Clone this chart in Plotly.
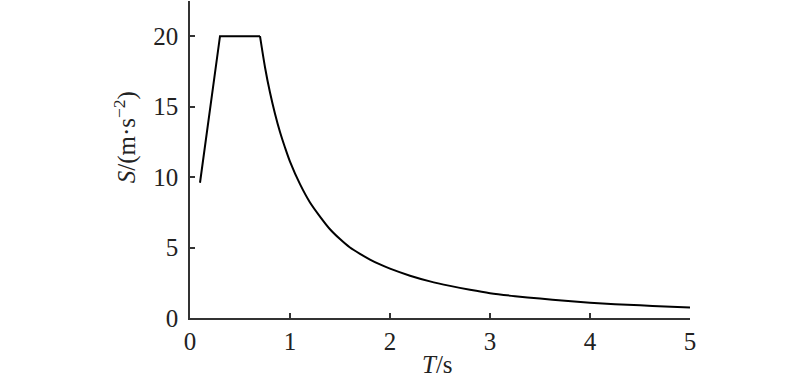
import plotly.graph_objects as go

# Response spectrum
T_rise = [0.1, 0.3, 0.7]
S_rise = [9.6, 20.0, 20.0]

T_decay = [0.7, 0.75, 0.8, 0.85, 0.9, 0.95, 1.0, 1.1, 1.2, 1.3, 1.4, 1.5, 1.6,
           1.7, 1.8, 1.9, 2.0, 2.2, 2.4, 2.6, 2.8, 3.0, 3.25, 3.5, 3.75, 4.0, 4.25,
           4.5, 4.75, 5.0]
S_decay = [20.0, 17.8, 16.0, 14.5, 13.2, 12.1, 11.1, 9.5, 8.2, 7.2, 6.3, 5.6, 5.0,
           4.55, 4.15, 3.8, 3.5, 3.0, 2.6, 2.28, 2.0, 1.76, 1.55, 1.38, 1.22, 1.08, 0.98,
           0.9, 0.82, 0.74]

x_ticks = [0, 1, 2, 3, 4, 5]
y_ticks = [0, 5, 10, 15, 20]

font = "Liberation Serif"

fig = go.Figure()
fig.add_trace(go.Scatter(x=T_rise, y=S_rise, mode="lines",
                         line=dict(color="black", width=2),
                         showlegend=False, hoverinfo="skip"))
fig.add_trace(go.Scatter(x=T_decay, y=S_decay, mode="lines",
                         line=dict(color="black", width=2, shape="spline", smoothing=0.8),
                         showlegend=False, hoverinfo="skip"))

axis_common = dict(showgrid=False, zeroline=False, showline=True, linecolor="#333333",
                   linewidth=1.5, ticks="inside", ticklen=5, tickwidth=1.5,
                   tickcolor="#333333", tickfont=dict(family=font, size=25, color="#222222"))

fig.update_layout(
    width=800, height=388,
    margin=dict(l=190, r=110, t=1, b=70),
    plot_bgcolor="white", paper_bgcolor="white",
    xaxis=dict(range=[0, 5], tickvals=x_ticks, ticklabelstandoff=0, **axis_common),
    yaxis=dict(range=[0, 22.5], tickvals=y_ticks, ticklabelstandoff=5, **axis_common),
)

fig.add_annotation(text="<i>T</i>/s", xref="x", yref="paper", x=2.47, y=-0.148,
                   yanchor="middle", xanchor="center", showarrow=False,
                   font=dict(family=font, size=25, color="#222222"))
fig.add_annotation(text="<i>S</i>/(m·s<sup>−2</sup>)", xref="paper", yref="paper",
                   x=-0.13, y=0.57, textangle=-90, showarrow=False,
                   xanchor="center", yanchor="middle",
                   font=dict(family=font, size=25, color="#222222"))

fig.write_html("out.html", config={"displayModeBar": False},
               post_script="document.body.style.margin='0px';")
